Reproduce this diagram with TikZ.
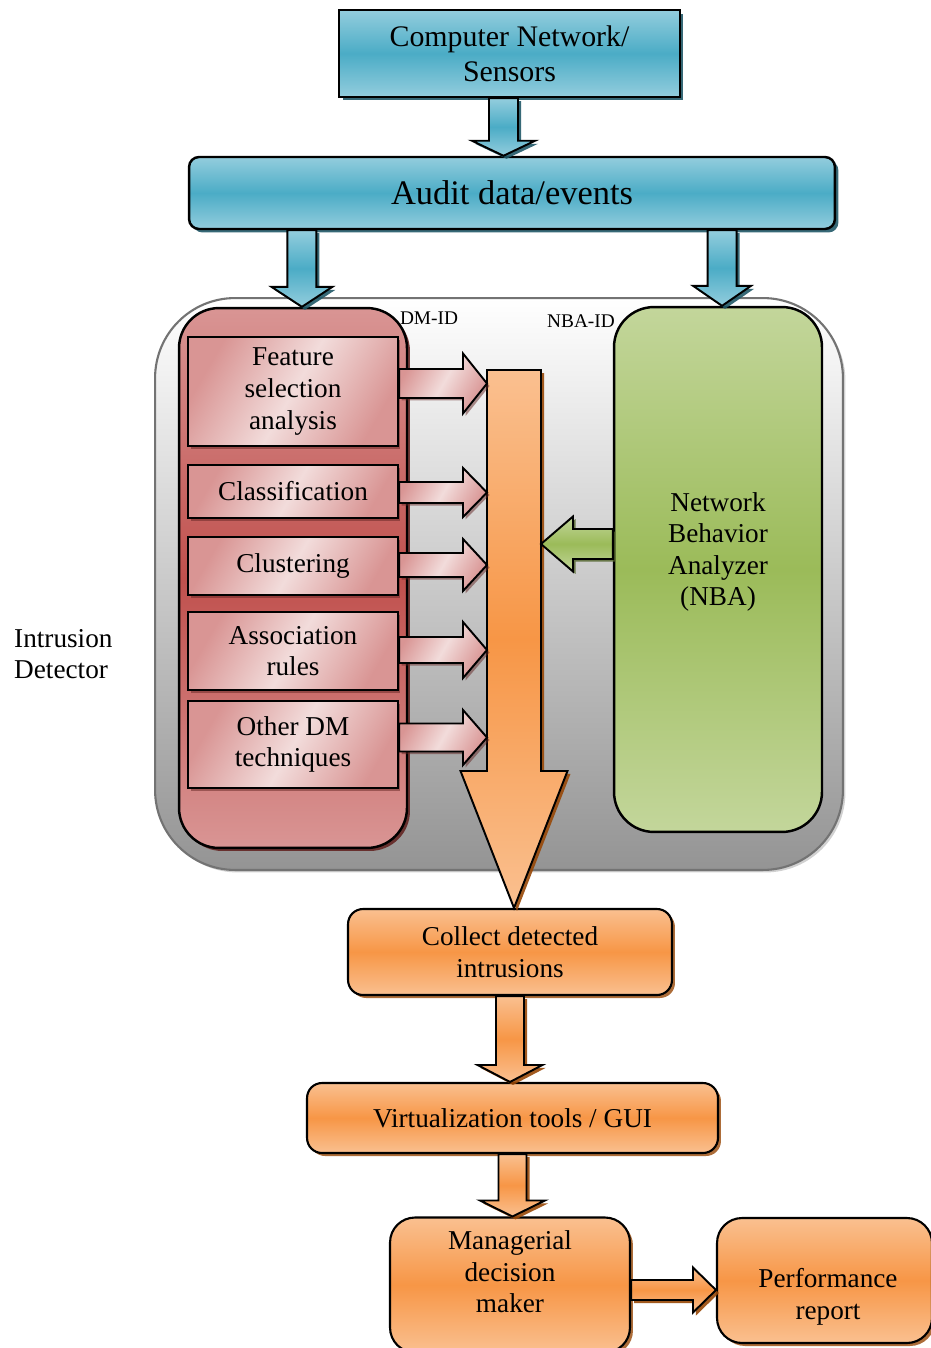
\documentclass[tikz,border=0pt]{standalone}
\usepackage{fontspec}
\setmainfont{Liberation Serif}
\usetikzlibrary{positioning}
\usetikzlibrary{calc}
\usetikzlibrary{shadows}

\definecolor{blueL}{HTML}{93CDDD}
\definecolor{blueD}{HTML}{4BACC6}
\definecolor{blueS}{HTML}{215968}
\definecolor{redL}{HTML}{D99594}
\definecolor{redD}{HTML}{C0504D}
\definecolor{redS}{HTML}{632523}
\definecolor{pinkL}{HTML}{F2DCDB}
\definecolor{orangeL}{HTML}{FAC090}
\definecolor{orangeD}{HTML}{F79646}
\definecolor{orangeS}{HTML}{984807}
\definecolor{greenL}{HTML}{C3D69B}
\definecolor{greenD}{HTML}{9BBB59}
\definecolor{greenS}{HTML}{4F6228}

\tikzset{
  box_blue/.style={draw=black, line width=1.4pt, top color=blueL, bottom color=blueL, middle color=blueD, align=center,
    drop shadow={shadow xshift=0.7mm, shadow yshift=-0.7mm, fill=blueS, opacity=0.9}},
  box_red/.style={draw=black, line width=1.4pt, rounded corners=0.8cm, top color=redL, bottom color=redL, middle color=redD,
    drop shadow={shadow xshift=0.6mm, shadow yshift=-0.6mm, fill=redS, opacity=0.9}},
  box_pink/.style={draw=black, line width=1.4pt, left color=redL, right color=redL, middle color=pinkL, shading angle=60, align=center,
    drop shadow={shadow xshift=0.5mm, shadow yshift=-0.6mm, fill=redS, opacity=0.5}},
  box_green/.style={draw=black, line width=1.4pt, rounded corners=0.8cm, top color=greenL, bottom color=greenL, middle color=greenD},
  box_orange/.style={draw=black, line width=1.2pt, top color=orangeL, bottom color=orangeL, middle color=orangeD, align=center,
    drop shadow={shadow xshift=0.6mm, shadow yshift=-0.6mm, fill=orangeS, opacity=0.8}},
  box_detector/.style={draw=black!55, line width=1.2pt, rounded corners=1.6cm, top color=white, bottom color=black!42,
    drop shadow={shadow xshift=0.5mm, shadow yshift=-0.5mm, fill=black!30, opacity=0.6}},
  arrow_blue/.style={draw=black, line width=1.1pt, top color=blueL, bottom color=blueL, middle color=blueD,
    drop shadow={shadow xshift=0.6mm, shadow yshift=-0.6mm, fill=blueS, opacity=0.9}},
  arrow_pink/.style={draw=black, line width=1.1pt, left color=redL, right color=redL, middle color=pinkL, shading angle=60,
    drop shadow={shadow xshift=0.5mm, shadow yshift=-0.5mm, fill=redS, opacity=0.5}},
  arrow_orange/.style={draw=black, line width=1.1pt, top color=orangeL, bottom color=orangeL, middle color=orangeD,
    drop shadow={shadow xshift=0.6mm, shadow yshift=-0.6mm, fill=orangeS, opacity=0.9}},
  arrow_green/.style={draw=black, line width=1.1pt, top color=greenL, bottom color=greenL, middle color=greenD,
    drop shadow={shadow xshift=0.5mm, shadow yshift=-0.5mm, fill=greenS, opacity=0.8}},
  small_label/.style={font=\fontsize{11}{13}\selectfont}
}

% block arrows: style, from, to, shaft half width, head half width, head length
\newcommand{\blockdown}[6]{%
  \draw[#1] let \p1=(#2), \p2=(#3) in
    (\x1-#4,\y1) -- (\x1-#4,\y2+#6) -- (\x1-#5,\y2+#6) -- (\x1,\y2)
    -- (\x1+#5,\y2+#6) -- (\x1+#4,\y2+#6) -- (\x1+#4,\y1) -- cycle;}
\newcommand{\blockright}[6]{%
  \draw[#1] let \p1=(#2), \p2=(#3) in
    (\x1,\y1+#4) -- (\x2-#6,\y1+#4) -- (\x2-#6,\y1+#5) -- (\x2,\y1)
    -- (\x2-#6,\y1-#5) -- (\x2-#6,\y1-#4) -- (\x1,\y1-#4) -- cycle;}
\newcommand{\blockleft}[6]{%
  \draw[#1] let \p1=(#2), \p2=(#3) in
    (\x1,\y1+#4) -- (\x2+#6,\y1+#4) -- (\x2+#6,\y1+#5) -- (\x2,\y1)
    -- (\x2+#6,\y1-#5) -- (\x2+#6,\y1-#4) -- (\x1,\y1-#4) -- cycle;}

\begin{document}
\begin{tikzpicture}[x=0.02cm, y=-0.02cm, font=\fontsize{15.5}{18}\selectfont]
\useasboundingbox (0,0) rectangle (930,1348);

%% Sources
\node[box_blue, minimum width=6.82cm, minimum height=1.74cm, font=\fontsize{17}{20}\selectfont] at (509.5,53.5) (cn) {Computer Network/\\Sensors};
\node[box_blue, rounded corners=0.2cm, minimum width=12.92cm, minimum height=1.44cm, font=\fontsize{19.6}{22}\selectfont] at (512,193) (audit) {Audit data/events};

%% Intrusion detector
\node[box_detector, minimum width=13.76cm, minimum height=11.44cm] at (499,584) (det) {};
\node[box_red, minimum width=4.56cm, minimum height=10.8cm] at (293,578) (dm) {};
\node[box_green, minimum width=4.16cm, minimum height=10.5cm] at (718,569.5) (nba) {};
\node[align=center] at (718,552) (nbatext) {Network\\Behavior\\Analyzer\\(NBA)};

\node[small_label] at (429,318) (dmlabel) {DM-ID};
\node[small_label] at (581,321) (nbalabel) {NBA-ID};
\node[align=left, anchor=west] at (8,654) (idlabel) {Intrusion\\Detector};

\node[box_pink, minimum width=4.2cm, minimum height=2.18cm] at (293,391.5) (feat) {Feature\\selection\\analysis};
\node[box_pink, minimum width=4.2cm, minimum height=1.06cm] at (293,491.5) (class) {Classification};
\node[box_pink, minimum width=4.2cm, minimum height=1.16cm] at (293,566) (clust) {Clustering};
\node[box_pink, minimum width=4.2cm, minimum height=1.56cm] at (293,651) (assoc) {Association\\rules};
\node[box_pink, minimum width=4.2cm, minimum height=1.74cm] at (293,744.5) (other) {Other DM\\techniques};

\coordinate (shaft_top) at (514,370);
\coordinate (shaft_west) at (487,370);
\coordinate (shaft_east) at (541,544);

%% Results
\node[box_orange, rounded corners=0.3cm, minimum width=6.48cm, minimum height=1.72cm] at (510,952) (collect) {Collect detected\\intrusions};
\node[box_orange, rounded corners=0.3cm, minimum width=8.22cm, minimum height=1.4cm] at (512.5,1118) (gui) {Virtualization tools / GUI};
\node[box_orange, rounded corners=0.5cm, minimum width=4.8cm, minimum height=2.7cm] at (510,1285) (mgr) {};
\node[align=center] at (510,1272) (mgrtext) {Managerial\\decision\\maker};
\node[box_orange, rounded corners=0.5cm, minimum width=4.3cm, minimum height=2.5cm] at (824.5,1280.5) (perf) {};
\node[align=center] at (828,1297) (perftext) {Performance\\report};

%% Arrows
\blockdown{arrow_blue}{$(cn.south)+(-6,0)$}{audit.north}{0.29cm}{0.63cm}{0.3cm}
\blockdown{arrow_blue}{$(audit.south west)!0.176!(audit.south east)$}{dm.north}{0.29cm}{0.61cm}{0.4cm}
\blockdown{arrow_blue}{$(audit.south west)!0.824!(audit.south east)$}{nba.north}{0.29cm}{0.58cm}{0.4cm}

\blockdown{arrow_orange}{shaft_top}{collect.north}{0.54cm}{1.07cm}{2.74cm}
\foreach \blk/\sh/\hd/\dy in {feat/0.29cm/0.6cm/-8, class/0.21cm/0.49cm/1, clust/0.24cm/0.52cm/-1, assoc/0.26cm/0.56cm/-1, other/0.28cm/0.55cm/-7}
  \blockright{arrow_pink}{$(\blk.east)+(0,\dy)$}{shaft_west}{\sh}{\hd}{0.48cm};
\blockleft{arrow_green}{$(nba.west)+(0,-25.5)$}{shaft_east}{0.3cm}{0.55cm}{0.64cm}

\blockdown{arrow_orange}{collect.south}{gui.north}{0.28cm}{0.65cm}{0.34cm}
\blockdown{arrow_orange}{gui.south}{mgr.north}{0.28cm}{0.65cm}{0.32cm}
\blockright{arrow_orange}{$(mgr.east)+(0,5)$}{perf.west}{0.2cm}{0.45cm}{0.46cm}

\end{tikzpicture}
\end{document}
